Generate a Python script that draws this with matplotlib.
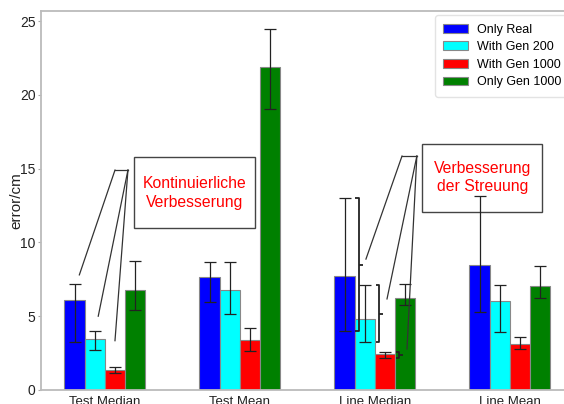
import matplotlib.pyplot as plt
import numpy as np
from matplotlib.patches import Rectangle

plt.rcParams["font.family"] = ["Liberation Sans", "DejaVu Sans"]

# values (bar height, lower / upper end of the error bar)
categories = ["Test Median", "Test Mean", "Line Median", "Line Mean"]
series_names = ["Only Real", "With Gen 200", "With Gen 1000", "Only Gen 1000"]
colors = ["blue", "cyan", "red", "green"]

only_real = [6.1, 7.63, 7.75, 8.49]
only_real_lo = [3.23, 5.98, 4.0, 5.31]
only_real_hi = [7.16, 8.69, 13.0, 13.14]

gen_200 = [3.48, 6.8, 4.81, 6.03]
gen_200_lo = [2.69, 5.12, 3.23, 3.9]
gen_200_hi = [4.0, 8.69, 7.09, 7.11]

gen_1000 = [1.35, 3.36, 2.42, 3.1]
gen_1000_lo = [1.13, 2.67, 2.17, 2.78]
gen_1000_hi = [1.56, 4.18, 2.57, 3.57]

only_gen = [6.77, 21.9, 6.23, 7.04]
only_gen_lo = [5.4, 19.04, 5.76, 6.23]
only_gen_hi = [8.76, 24.46, 7.18, 8.42]

values = [only_real, gen_200, gen_1000, only_gen]
lows = [only_real_lo, gen_200_lo, gen_1000_lo, only_gen_lo]
highs = [only_real_hi, gen_200_hi, gen_1000_hi, only_gen_hi]

fig = plt.figure(figsize=(5.64, 4.04), dpi=100)
ax = fig.add_axes([0.0727, 0.0347, 0.945, 0.938])

x = np.arange(len(categories))
width = 0.15
offsets = (np.arange(4) - 1.5) * width

for name, col, off, v, lo, hi in zip(series_names, colors, offsets, values, lows, highs):
    v = np.array(v)
    yerr = np.vstack([v - np.array(lo), np.array(hi) - v])
    ax.bar(x + off, v, width, color=col, edgecolor="#888888", linewidth=0.8,
           yerr=yerr, capsize=4.5, label=name,
           error_kw=dict(ecolor="#222222", elinewidth=0.9, capthick=0.9))

ax.set_xlim(-0.474, 3.474)
ax.set_ylim(0, 25.68)
ax.set_xticks(x)
ax.set_xticklabels(categories, fontsize=9.5, color="#222222")
ax.set_yticks([0, 5, 10, 15, 20, 25])
ax.tick_params(axis="y", labelsize=10, length=2, pad=2, color="#aaaaaa",
               labelcolor="#222222")
ax.tick_params(axis="x", length=0, pad=4.2)
ax.set_ylabel("error/cm", fontsize=11, labelpad=-2.5, color="#222222")
for s in ["left", "bottom", "top", "right"]:
    ax.spines[s].set_color("#bbbbbb")
    ax.spines[s].set_linewidth(1.3)

ax.legend(loc="upper right", fontsize=9, frameon=True, edgecolor="#dddddd",
          fancybox=True, labelspacing=0.45, borderpad=0.65, handletextpad=0.7,
          borderaxespad=0.35)

line_kw = dict(color="#333333", lw=0.9)

# annotation 1: "Kontinuierliche Verbesserung"
hub_y = 14.9
ax.plot([0.074, 0.17], [hub_y, hub_y], **line_kw)
ax.plot([0.074, -0.19], [hub_y, 7.8], **line_kw)
ax.plot([0.17, -0.05], [hub_y, 5.0], **line_kw)
ax.plot([0.17, 0.074], [hub_y, 3.34], **line_kw)
ax.add_patch(Rectangle((0.215, 11.0), 0.895, 4.8, fill=False,
                       edgecolor="#444444", lw=1))
ax.text(0.6625, 13.35, "Kontinuierliche\nVerbesserung", color="red",
        fontsize=11.3, ha="center", va="center", linespacing=1.3)

# annotation 2: "Verbesserung der Streuung"
hub_y2 = 15.85
ax.plot([2.2, 2.31], [hub_y2, hub_y2], **line_kw)
ax.plot([2.2, 1.933], [hub_y2, 8.87], **line_kw)
ax.plot([2.31, 2.089], [hub_y2, 6.17], **line_kw)
ax.plot([2.31, 2.237], [hub_y2, 2.78], **line_kw)
ax.add_patch(Rectangle((2.35, 12.06), 0.89, 4.64, fill=False,
                       edgecolor="#444444", lw=1))
ax.text(2.795, 14.4, "Verbesserung\nder Streuung", color="red",
        fontsize=11.3, ha="center", va="center", linespacing=1.3)

# brackets beside the Line Median error bars
g = 2
for k in range(3):
    xb = x[g] + offsets[k] + width / 2 + 0.03
    lo, hi = lows[k][g], highs[k][g]
    mid = (lo + hi) / 2
    bk = dict(color="#222222", lw=1.3, solid_capstyle="butt")
    ax.plot([xb - 0.025, xb, xb, xb - 0.025], [hi, hi, lo, lo], **bk)
    ax.plot([xb, xb + 0.03], [mid, mid], **bk)

fig.savefig("out.png", dpi=100)
